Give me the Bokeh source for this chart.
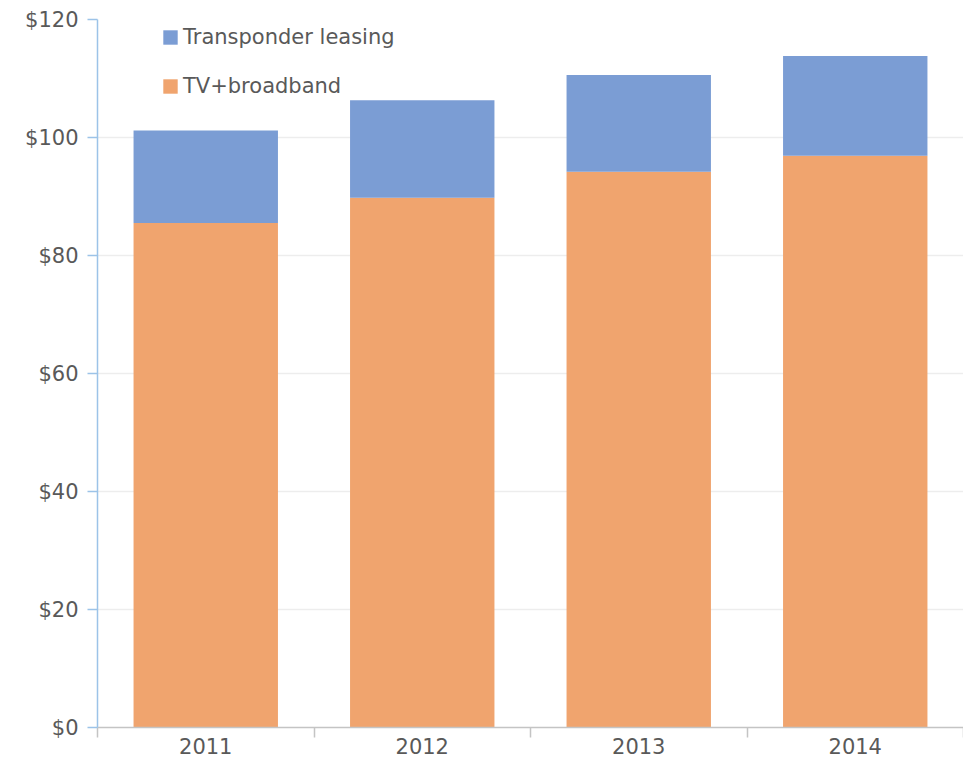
from bokeh.plotting import figure
from bokeh.models import (ColumnDataSource, FixedTicker, NumeralTickFormatter,
                          Legend, LegendItem, Range1d)
from bokeh.embed import file_html
from bokeh.resources import INLINE
import numpy as np

years = ["2011", "2012", "2013", "2014"]
tv_broadband = [85.5, 89.8, 94.2, 96.9]
transponder = [15.7, 16.5, 16.4, 16.9]
y_ticks = [0, 20, 40, 60, 80, 100, 120]

ORANGE = "#f0a46e"
BLUE = "#7b9dd4"
FONT = "DejaVu Sans"

centers = list(np.arange(len(years)) + 0.5)
bounds = list(np.arange(len(years) + 1).astype(float))

src = ColumnDataSource(dict(x=centers, tv=tv_broadband, tr=transponder))

p = figure(width=963, height=762, output_backend="svg", toolbar_location=None,
           x_range=Range1d(0, len(years)), y_range=Range1d(0, 120),
           min_border_left=97, min_border_right=0, min_border_top=19,
           min_border_bottom=35)
p.outline_line_color = None
p.background_fill_color = "white"

rs = p.vbar_stack(["tv", "tr"], x="x", width=0.667, color=[ORANGE, BLUE],
                  line_color=None, source=src)

# y axis
ya = p.yaxis[0]
ya.ticker = FixedTicker(ticks=y_ticks, minor_ticks=[])
ya.formatter = NumeralTickFormatter(format="$0")
ya.axis_line_color = "#9cc3e8"
ya.axis_line_width = 1.5
ya.major_tick_line_color = "#9cc3e8"
ya.major_tick_line_width = 1.5
ya.major_tick_out = 10
ya.major_tick_in = 0
ya.minor_tick_line_color = None
ya.major_label_text_font = FONT
ya.major_label_text_font_size = "21px"
ya.major_label_text_color = "#595959"
ya.major_label_standoff = 9

# x axis
xa = p.xaxis[0]
xa.ticker = FixedTicker(ticks=centers, minor_ticks=bounds)
xa.major_label_overrides = {c: y for c, y in zip(centers, years)}
xa.axis_line_color = "#c4c4c4"
xa.axis_line_width = 1.5
xa.major_tick_line_color = None
xa.major_tick_out = 8
xa.major_tick_in = 0
xa.minor_tick_line_color = "#c4c4c4"
xa.minor_tick_line_width = 1.5
xa.minor_tick_out = 10
xa.minor_tick_in = 0
xa.major_label_text_font = FONT
xa.major_label_text_font_size = "21px"
xa.major_label_text_color = "#595959"
xa.major_label_standoff = 0

p.xgrid.grid_line_color = None
p.ygrid.grid_line_color = "#ededed"
p.ygrid.grid_line_width = 1.5

legend = Legend(items=[LegendItem(label="Transponder leasing", renderers=[rs[1]]),
                       LegendItem(label="TV+broadband", renderers=[rs[0]])],
                location=(64, 629), padding=0, margin=0, spacing=25,
                glyph_width=18, glyph_height=18, label_standoff=4,
                label_text_font=FONT, label_text_font_size="21px",
                label_text_color="#595959", border_line_color=None,
                background_fill_alpha=0)
p.add_layout(legend)

open("out.html", "w").write(file_html(p, INLINE))
